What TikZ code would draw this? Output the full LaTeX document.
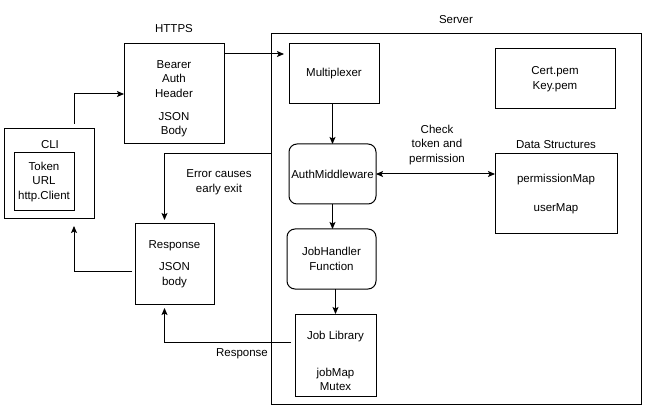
\documentclass[tikz,border=0pt]{standalone}
\usepackage{fontspec}
\setmainfont{Liberation Sans}
\usetikzlibrary{arrows.meta}
\begin{document}
\begin{tikzpicture}[x=1pt,y=-1pt,inner sep=0pt,outer sep=0pt,line width=1pt,
font=\fontsize{11.5}{14.5}\selectfont,
>={Stealth[length=7pt,width=6pt,inset=1.5pt]},
sysblock/.style={draw,rectangle,align=center,inner sep=0pt},
roundblock/.style={sysblock,rounded corners=8pt},
txt/.style={align=center}]
\useasboundingbox (0,0) rectangle (646,409);
\draw (456,219) node[sysblock,minimum width=370,minimum height=370] (server) {};
\draw (456,20) node[txt] (serverlbl) {Server};
\draw (49,174) node[sysblock,minimum width=90,minimum height=90] (cli) {};
\draw (50,145) node[txt] (clilbl) {CLI};
\draw (44,182) node[sysblock,minimum width=60,minimum height=58] (clidata) {Token\\URL\\http.Client};
\draw (174,94) node[sysblock,minimum width=100,minimum height=100,
  label={[txt,yshift=-4.5pt]center:{Bearer\\Auth\\Header\\[8.5pt]JSON\\Body}}] (https) {};
\draw (174,29) node[txt] (httpslbl) {HTTPS};
\draw (334,74) node[sysblock,minimum width=90,minimum height=60] (mux) {Multiplexer};
\draw (332.5,174) node[roundblock,minimum width=87,minimum height=60] (auth) {AuthMiddleware};
\draw (331.5,259) node[roundblock,minimum width=89,minimum height=60] (jobh) {JobHandler\\Function};
\draw (335.5,355) node[sysblock,minimum width=81,minimum height=82,
  label={[txt,yshift=-6pt]center:{Job Library\\[22pt]jobMap\\Mutex}}] (joblib) {};
\draw (555,79) node[sysblock,minimum width=120,minimum height=60] (cert) {Cert.pem\\Key.pem};
\draw (556,194) node[sysblock,minimum width=122,minimum height=80] (data) {permissionMap\\[15pt]userMap};
\draw (556,145) node[txt] (datalbl) {Data Structures};
\draw (174.5,264) node[sysblock,minimum width=79,minimum height=80] (resp) {Response\\[7.5pt]JSON\\body};
\draw (437,145) node[txt] (checklbl) {Check\\token and\\permission};
\draw (219,182) node[txt] (errlbl) {Error causes\\early exit};
\draw (242,354) node[txt] (resplbl) {Response};
\draw[->] ([xshift=25pt,yshift=5pt]cli.north) |- (https.west);
\draw[->] ([yshift=-10pt]https.north east) -- ([yshift=-10pt,xshift=-5pt]mux.north west);
\draw[->] (auth.north |- mux.south) -- (auth.north);
\draw[->] (auth.south) -- (auth.south |- jobh.north);
\draw[->] (joblib.north |- jobh.south) -- (joblib.north);
\draw[<->] (auth.east) -- (auth.east -| data.west);
\draw[->] ([yshift=65pt]server.west) -| ([xshift=-10pt,yshift=4pt]resp.north);
\draw[->] ([yshift=-7pt,xshift=-3pt]resp.west) -| ([xshift=25pt,yshift=-7pt]cli.south);
\draw[->] ([yshift=-28pt,xshift=-4pt]joblib.north west) -| ([xshift=-10pt,yshift=-4pt]resp.south);
\end{tikzpicture}
\end{document}
